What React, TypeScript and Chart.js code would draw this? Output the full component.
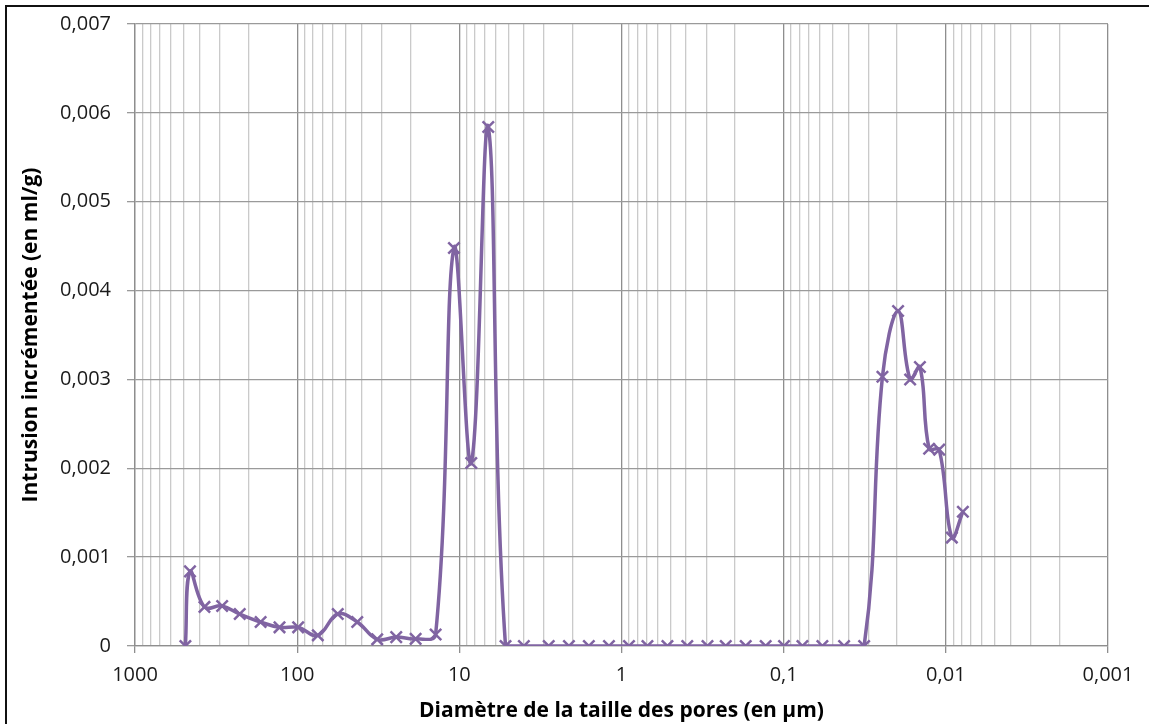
import React, { useEffect, useRef } from "react";
import { Chart, registerables } from "chart.js";

Chart.register(...registerables);

// Pore diameter (µm) and incremental intrusion (ml/g)
const diameters: number[] = [
  489, 458, 373, 290, 226, 168, 128.5, 98.6, 74.6, 56.2, 42.6, 32.1, 24.5, 18.6, 14.0,
  10.8, 8.44, 6.63, 5.19,
  4.0, 2.81, 2.11, 1.59, 1.195, 0.899, 0.692, 0.521, 0.393, 0.295, 0.2276, 0.1714,
  0.1291, 0.0995, 0.0766, 0.0577, 0.0424, 0.0319,
  0.0246, 0.0197, 0.0166, 0.01445, 0.01268, 0.01099, 0.00918, 0.00785,
];
const intrusion: number[] = [
  0, 0.00084, 0.00044, 0.00045, 0.00036, 0.00027, 0.00021, 0.00021, 0.00012, 0.00036,
  0.00027, 0.000075, 0.0001, 0.00008, 0.00013,
  0.00448, 0.00206, 0.00584, 0,
  0, 0, 0, 0, 0, 0, 0, 0, 0, 0, 0, 0,
  0, 0, 0, 0, 0, 0,
  0.00303, 0.00377, 0.003, 0.00314, 0.00222, 0.00221, 0.00122, 0.00151,
];

const xMajorTicks: number[] = [1000, 100, 10, 1, 0.1, 0.01, 0.001];
const xTickLabels: string[] = ["1000", "100", "10", "1", "0,1", "0,01", "0,001"];
const yTickValues: number[] = [0, 0.001, 0.002, 0.003, 0.004, 0.005, 0.006, 0.007];
const yTickLabels: string[] = ["0", "0,001", "0,002", "0,003", "0,004", "0,005", "0,006", "0,007"];

const xTitle = "Diamètre de la taille des pores (en µm)";
const yTitle = "Intrusion incrémentée (en ml/g)";

const PURPLE = "#8064A2";
const FONT = "'Open Sans', 'Noto Sans', sans-serif";

function isMajor(v: number): boolean {
  const l = Math.log10(v);
  return Math.abs(l - Math.round(l)) < 1e-6;
}

export default function App() {
  const ref = useRef<HTMLCanvasElement | null>(null);

  useEffect(() => {
    if (!ref.current) return;
    const points = diameters.map((d, i) => ({ x: d, y: intrusion[i] }));

    const chart = new Chart(ref.current, {
      type: "line",
      data: {
        datasets: [
          {
            data: points,
            borderColor: PURPLE,
            backgroundColor: PURPLE,
            borderWidth: 3.5,
            tension: 0.4,
            pointStyle: "crossRot",
            pointRadius: 8,
            pointBorderWidth: 2.5,
            pointBorderColor: PURPLE,
            fill: false,
          },
        ],
      },
      options: {
        animation: false,
        responsive: false,
        devicePixelRatio: 1,
        layout: { padding: { left: 0, right: 41, top: 24, bottom: 0 } },
        plugins: { legend: { display: false }, tooltip: { enabled: false } },
        scales: {
          x: {
            type: "logarithmic",
            reverse: true,
            min: 0.001,
            max: 1000,
            afterBuildTicks: (scale: any) => {
              const ticks: any[] = [];
              for (let k = 0; k < xMajorTicks.length - 1; k++) {
                const base = xMajorTicks[xMajorTicks.length - 1 - k];
                for (let m = 1; m < 10; m++) ticks.push({ value: base * m });
              }
              ticks.push({ value: 1000 });
              scale.ticks = ticks;
            },
            afterFit: (scale: any) => {
              scale.height = 78;
            },
            ticks: {
              autoSkip: false,
              maxRotation: 0,
              padding: 10,
              color: "#1a1a1a",
              font: { family: FONT, size: 20 },
              callback: (value: any) => {
                const v = Number(value);
                const idx = xMajorTicks.findIndex((t) => Math.abs(t - v) / t < 1e-6);
                return idx >= 0 ? xTickLabels[idx] : "";
              },
            },
            grid: {
              color: (ctx: any) =>
                ctx.tick && isMajor(ctx.tick.value) ? "#8e8e8e" : "#cacaca",
              tickColor: (ctx: any) =>
                ctx.tick && isMajor(ctx.tick.value) ? "#8e8e8e" : "rgba(0,0,0,0)",
              lineWidth: 1.3,
              tickLength: 7,
            },
            border: { color: "#8e8e8e", width: 1.3 },
            title: {
              display: true,
              text: xTitle,
              color: "#000",
              font: { family: FONT, size: 21, weight: "bold" },
              padding: { top: 0, bottom: 0 },
            },
          },
          y: {
            min: 0,
            max: 0.007,
            afterBuildTicks: (scale: any) => {
              scale.ticks = yTickValues.map((v) => ({ value: v }));
            },
            afterFit: (scale: any) => {
              scale.width = 135;
              scale.paddingTop = 10;
              scale.paddingBottom = 10;
            },
            ticks: {
              padding: 16,
              color: "#1a1a1a",
              font: { family: FONT, size: 20 },
              callback: (value: any) => {
                const idx = yTickValues.findIndex((t) => Math.abs(t - Number(value)) < 1e-9);
                return idx >= 0 ? yTickLabels[idx] : "";
              },
            },
            grid: { color: "#9a9a9a", lineWidth: 1.3, tickLength: 8, tickColor: "#9a9a9a" },
            border: { color: "#8e8e8e", width: 1.3 },
            title: {
              display: true,
              text: yTitle,
              color: "#000",
              font: { family: FONT, size: 21, weight: "bold" },
              padding: { top: 18, bottom: 0 },
            },
          },
        },
      },
    } as any);

    return () => chart.destroy();
  }, []);

  return (
    <div
      style={{
        position: "fixed",
        left: 0,
        top: 0,
        width: 1149,
        height: 724,
        background: "#fff",
        overflow: "hidden",
      }}
    >
      <canvas ref={ref} width={1149} height={724} style={{ position: "absolute", left: 0, top: 0 }} />
      <div
        style={{
          position: "absolute",
          left: 5,
          top: 5,
          width: 1160,
          height: 740,
          borderLeft: "2px solid #111",
          borderTop: "2px solid #111",
          pointerEvents: "none",
        }}
      />
    </div>
  );
}
